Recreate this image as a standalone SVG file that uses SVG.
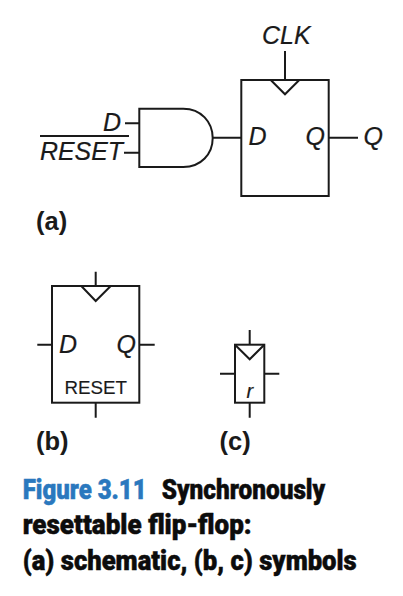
<svg xmlns="http://www.w3.org/2000/svg" width="403" height="596" viewBox="0 0 403 596">
<style>
.s{fill:none;stroke:#1a1a1a;stroke-width:2}
.b{fill:#fff;stroke:#1a1a1a;stroke-width:2}
text{font-family:"Liberation Sans",Arial,sans-serif;fill:#1a1a1a}
.i{font-style:italic;font-size:25px;stroke:#1a1a1a;stroke-width:.2}
.n{font-size:19px;stroke:#1a1a1a;stroke-width:.15}
.l{font-weight:bold;font-size:25.500px}
.c{font-family:"Roboto","Liberation Sans",sans-serif;font-weight:900;font-size:27px;fill:#0c0c0c;stroke:#0c0c0c;stroke-width:.5}
.f{fill:#2a78be;stroke:#2a78be}
</style>
<rect width="403" height="596" fill="#fff"/>
<g id="connectors">
<path class="s" d="M285 51V80M125 123.3H139.3M124 152.7H139.3M212.7 137.8H241.3M328.7 137.8H358M40 136H129"/>
<path class="s" d="M95.7 271.7V286M37.3 344.7H52M139.3 344.7H154.7M95.7 402.700V417.700"/>
<path class="s" d="M249.700 330V344.700M220 373.700H235M264.300 373.700H279.300M249.700 402.700V417.700"/>
</g>
<g id="and-gate">
<path class="b" d="M139.3 108.7H183.3C201 108.7 212.7 122 212.7 138S201 167 183.3 167H139.3Z"/>
<text class="i" x="103" y="130.500">D</text>
<text class="i" x="40" y="160" textLength="83" lengthAdjust="spacingAndGlyphs">RESET</text>
</g>
<g id="flipflop-a">
<rect class="b" x="241.3" y="80" width="87.4" height="116"/>
<path class="s" d="M270.7 80L285 94.3L299.3 80"/>
<text class="i" x="262" y="43.500">CLK</text>
<text class="i" x="248.500" y="145">D</text>
<text class="i" x="305.500" y="145">Q</text>
<text class="i" x="363.500" y="145">Q</text>
<text class="l" x="36" y="229.500">(a)</text>
</g>
<g id="flipflop-b">
<rect class="b" x="52" y="286" width="87.3" height="116.7"/>
<path class="s" d="M81.3 286L95.7 301L110.7 286"/>
<text class="i" x="59" y="352.500">D</text>
<text class="i" x="116.500" y="352.500">Q</text>
<text class="n" x="64.500" y="394" textLength="62.500" lengthAdjust="spacingAndGlyphs">RESET</text>
<text class="l" x="36" y="449.500">(b)</text>
</g>
<g id="flipflop-c">
<rect class="b" x="235" y="344.700" width="29.300" height="58"/>
<path class="s" d="M235 344.700L249.700 359.300L264.300 344.700"/>
<text class="i" x="246.500" y="397.500" style="font-size:20px">r</text>
<text class="l" x="219.500" y="449.500">(c)</text>
</g>
<g id="caption">
<text class="c f" x="22.700" y="499.300" textLength="124" lengthAdjust="spacingAndGlyphs">Figure 3.11</text>
<text class="c" x="161.700" y="499.300" textLength="163.500" lengthAdjust="spacingAndGlyphs">Synchronously</text>
<text class="c" x="22.700" y="534.300" textLength="229" lengthAdjust="spacingAndGlyphs">resettable flip-flop:</text>
<text class="c" x="22.700" y="570" textLength="334" lengthAdjust="spacingAndGlyphs">(a) schematic, (b, c) symbols</text>
</g>
</svg>
